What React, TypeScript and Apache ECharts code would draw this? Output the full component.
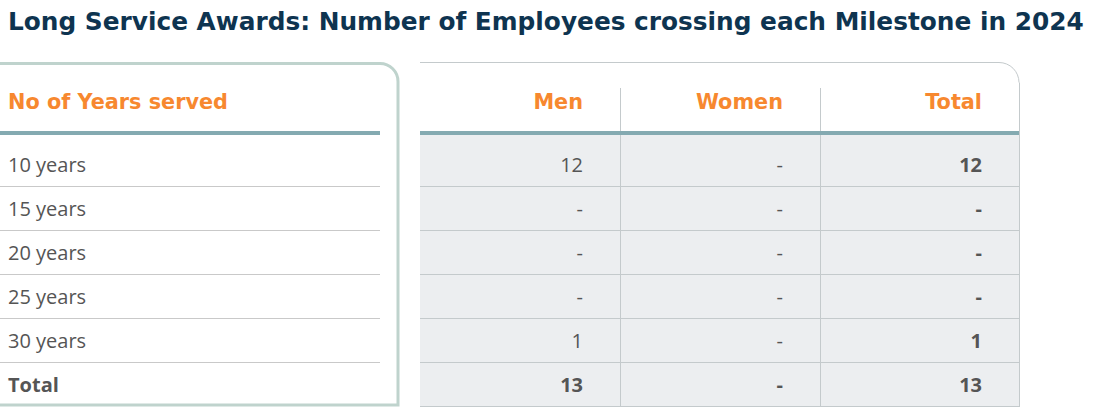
import React, { useEffect, useRef } from "react";
import * as echarts from "echarts";

const title = "Long Service Awards: Number of Employees crossing each Milestone in 2024";
const headers = ["No of Years served", "Men", "Women", "Total"];
const categories = ["10 years", "15 years", "20 years", "25 years", "30 years", "Total"];
const men = ["12", "-", "-", "-", "1", "13"];
const women = ["-", "-", "-", "-", "-", "-"];
const totals = ["12", "-", "-", "-", "1", "13"];

export default function App() {
  const ref = useRef<HTMLDivElement>(null);
  useEffect(() => {
    if (!ref.current) return;
    const chart = echarts.init(ref.current, undefined, { renderer: "svg" });
    const bodyFont = "'Open Sans', sans-serif";
    const headFont = "'DejaVu Sans', sans-serif";
    const textColor = "#555555";
    const orange = "#f7882f";
    const teal = "#84aab1";
    const sepL = "#c9c9c9";
    const sepR = "#c4cacc";
    const rowTop = 142;
    const rowH = 44;
    const colRight = [583, 783, 982];
    const els: any[] = [];

    // title
    els.push({
      type: "text", x: 8, y: 21,
      style: { text: title, fill: "#0e3450", font: `bold 24.8px ${headFont}`, textAlign: "left", textVerticalAlign: "middle" },
    });
    // left panel
    els.push({
      type: "rect",
      shape: { x: -20, y: 63.5, width: 418, height: 341.5, r: [18, 18, 0, 0] },
      style: { fill: "#ffffff", stroke: "#bfd3cd", lineWidth: 3 },
    });
    // right panel background
    els.push({ type: "rect", shape: { x: 420, y: 135, width: 599, height: 272 }, style: { fill: "#eceef0" } });
    els.push({ type: "line", shape: { x1: 420, y1: 62.5, x2: 999, y2: 62.5 }, style: { stroke: sepR, lineWidth: 1 } });
    els.push({
      type: "arc",
      shape: { cx: 999, cy: 82.5, r: 20, startAngle: -Math.PI / 2, endAngle: 0, clockwise: true },
      style: { stroke: sepR, lineWidth: 1, fill: "none" },
    });
    els.push({ type: "line", shape: { x1: 1019.5, y1: 82.5, x2: 1019.5, y2: 407 }, style: { stroke: sepR, lineWidth: 1 } });
    // vertical dividers
    [620.5, 820.5].forEach((x) => {
      els.push({ type: "line", shape: { x1: x, y1: 88, x2: x, y2: 407 }, style: { stroke: sepR, lineWidth: 1 } });
    });
    // thick header lines
    els.push({ type: "rect", shape: { x: 0, y: 131, width: 380, height: 4 }, style: { fill: teal } });
    els.push({ type: "rect", shape: { x: 420, y: 131, width: 599, height: 4 }, style: { fill: teal } });
    // headers
    els.push({
      type: "text", x: 8, y: 102,
      style: { text: headers[0], fill: orange, font: `bold 20.8px ${headFont}`, textAlign: "left", textVerticalAlign: "middle" },
    });
    headers.slice(1).forEach((h, i) => {
      els.push({
        type: "text", x: colRight[i], y: 102,
        style: { text: h, fill: orange, font: `bold 20.8px ${headFont}`, textAlign: "right", textVerticalAlign: "middle" },
      });
    });
    // rows
    categories.forEach((c, i) => {
      const yc = rowTop + rowH * i + 22;
      const sepY = rowTop + rowH * (i + 1) + 0.5;
      const isTotal = i === categories.length - 1;
      if (!isTotal) {
        els.push({ type: "line", shape: { x1: 0, y1: sepY, x2: 380, y2: sepY }, style: { stroke: sepL, lineWidth: 1 } });
      }
      els.push({ type: "line", shape: { x1: 420, y1: sepY, x2: 1019, y2: sepY }, style: { stroke: sepR, lineWidth: 1 } });
      const w = isTotal ? "bold" : "normal";
      els.push({
        type: "text", x: 8, y: yc,
        style: { text: c, fill: textColor, font: `${w} 20px ${bodyFont}`, textAlign: "left", textVerticalAlign: "middle" },
      });
      [men[i], women[i], totals[i]].forEach((v, j) => {
        const bold = isTotal || j === 2;
        els.push({
          type: "text", x: colRight[j], y: yc,
          style: { text: v, fill: textColor, font: `${bold ? "bold" : "normal"} 20px ${bodyFont}`, textAlign: "right", textVerticalAlign: "middle" },
        });
      });
    });

    chart.setOption({ animation: false, graphic: { elements: els } });
    return () => chart.dispose();
  }, []);
  return <div ref={ref} style={{ position: "absolute", left: 0, top: 0, width: 1120, height: 407 }} />;
}
